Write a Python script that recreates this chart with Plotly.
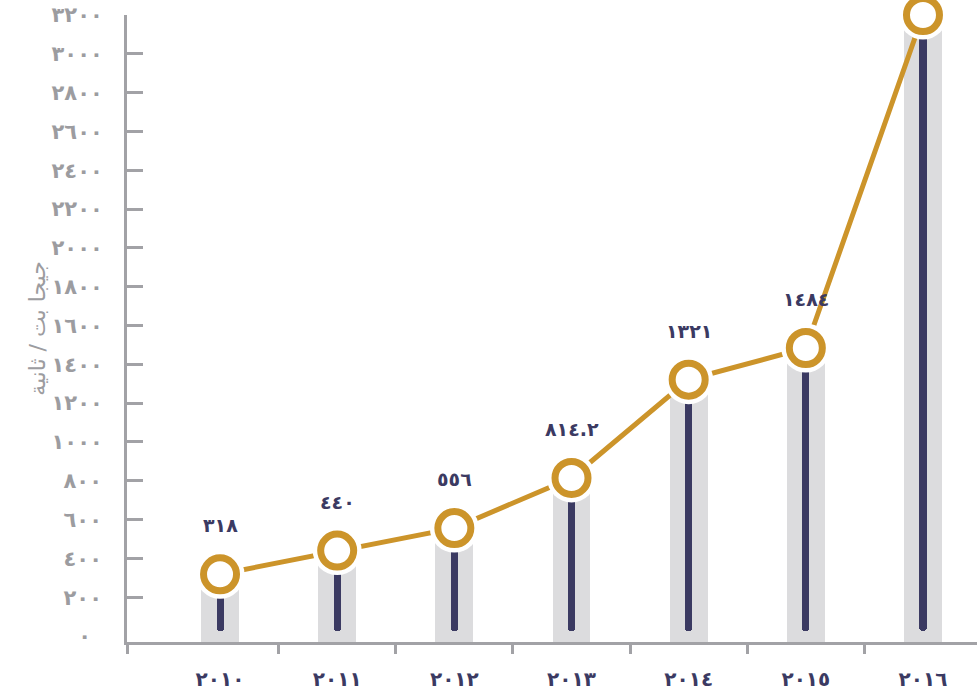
import plotly.graph_objects as go

# Internet bandwidth by year (Gbit/s)
years = [2010, 2011, 2012, 2013, 2014, 2015, 2016]
year_labels = ["٢٠١٠", "٢٠١١", "٢٠١٢", "٢٠١٣", "٢٠١٤", "٢٠١٥", "٢٠١٦"]
bandwidth = [318, 440, 556, 814.2, 1321, 1484, 3200]
bandwidth_labels = ["٣١٨", "٤٤٠", "٥٥٦", "٨١٤.٢", "١٣٢١", "١٤٨٤", ""]

# y tick labels, grouped by digit count so each group can be centred
y_ticks_4 = [1000, 1200, 1400, 1600, 1800, 2000, 2200, 2400, 2600, 2800, 3000, 3200]
y_labels_4 = ["١٠٠٠", "١٢٠٠", "١٤٠٠", "١٦٠٠", "١٨٠٠", "٢٠٠٠",
              "٢٢٠٠", "٢٤٠٠", "٢٦٠٠", "٢٨٠٠", "٣٠٠٠", "٣٢٠٠"]
y_ticks_3 = [200, 400, 600, 800]
y_labels_3 = ["٢٠٠", "٤٠٠", "٦٠٠", "٨٠٠"]
y_ticks_1 = [0]
y_labels_1 = ["٠"]
y_title = "جيجا بت / ثانية"

GOLD = "#cc942a"
NAVY = "#3b3a62"
BAR_GRAY = "#dcdcde"
AXIS_GRAY = "#a2a2a6"
TEXT_GRAY = "#9c9ca0"
FONT = "DejaVu Sans"

Y_MIN, Y_MAX = -31, 3200
X_MIN, X_MAX = 2009.206, 2016.461
NAVY_BOTTOM = 26

fig = go.Figure()

# wide light bars rising from the axis line
fig.add_trace(go.Bar(
    x=years, y=[v - Y_MIN for v in bandwidth], base=Y_MIN,
    width=0.324, marker=dict(color=BAR_GRAY, line=dict(width=0)),
    hoverinfo="skip", showlegend=False,
))

# thin navy stems with a rounded lower end
fig.add_trace(go.Bar(
    x=years, y=[NAVY_BOTTOM - v for v in bandwidth], base=bandwidth,
    width=0.06, marker=dict(color=NAVY, line=dict(width=0), cornerradius=4),
    hoverinfo="skip", showlegend=False,
))

# trend line
fig.add_trace(go.Scatter(
    x=years, y=bandwidth, mode="lines",
    line=dict(color=GOLD, width=5),
    hoverinfo="skip", showlegend=False, cliponaxis=False,
))

# white halo behind each marker
fig.add_trace(go.Scatter(
    x=years, y=bandwidth, mode="markers",
    marker=dict(size=49, color="white", line=dict(width=0)),
    hoverinfo="skip", showlegend=False, cliponaxis=False,
))

# gold ring markers
fig.add_trace(go.Scatter(
    x=years, y=bandwidth, mode="markers",
    marker=dict(size=33, color="white", line=dict(color=GOLD, width=7)),
    showlegend=False, cliponaxis=False,
))

# invisible anchors for the extra label-only y axes
for axis_name in ("y2", "y3"):
    fig.add_trace(go.Scatter(
        x=[X_MIN], y=[0], yaxis=axis_name, mode="markers",
        marker=dict(size=0, opacity=0), hoverinfo="skip", showlegend=False,
    ))

fig.update_layout(barmode="overlay")

for x, v, label in zip(years, bandwidth, bandwidth_labels):
    if label:
        fig.add_annotation(
            x=x, y=v, text=label, showarrow=False, yshift=49,
            font=dict(family=FONT, size=19, color=NAVY, weight="bold"),
        )

# the year labels are cut along their lower edge
fig.add_shape(
    type="rect", xref="paper", yref="paper",
    x0=-0.2, x1=1.05, y0=-0.2, y1=-0.0734,
    fillcolor="white", line=dict(width=0), layer="above",
)

tick_font = dict(family=FONT, size=21, color=TEXT_GRAY, weight="bold")

all_ticks = y_ticks_3 + y_ticks_4
main_text = [""] * len(y_ticks_3) + y_labels_4

label_axis = dict(
    overlaying="y", side="left", range=[Y_MIN, Y_MAX], tickmode="array",
    ticks="", showgrid=False, zeroline=False, showline=False, tickfont=tick_font,
)

fig.update_layout(
    width=977, height=699,
    margin=dict(l=127, r=0, t=15, b=57),
    paper_bgcolor="white", plot_bgcolor="white",
    bargap=0,
    xaxis=dict(
        range=[X_MIN, X_MAX],
        tickmode="array", tickvals=years, ticktext=year_labels,
        ticks="", showgrid=False, zeroline=False,
        showline=True, linecolor=AXIS_GRAY, linewidth=3,
        tickfont=dict(family=FONT, size=20, color=NAVY, weight="bold"),
        ticklabelstandoff=17,
        minor=dict(
            tickmode="array",
            tickvals=[X_MIN, 2010.5, 2011.5, 2012.5, 2013.5, 2014.5, 2015.5],
            ticks="outside", ticklen=9, tickwidth=2.5, tickcolor=AXIS_GRAY,
            showgrid=False,
        ),
    ),
    yaxis=dict(
        range=[Y_MIN, Y_MAX],
        tickmode="array", tickvals=all_ticks, ticktext=main_text,
        ticks="inside", ticklen=16, tickwidth=2.5, tickcolor=AXIS_GRAY,
        showgrid=False, zeroline=False,
        showline=True, linecolor=AXIS_GRAY, linewidth=3,
        tickfont=tick_font,
        ticklabelstandoff=17,
        title=dict(text=y_title, standoff=0,
                   font=dict(family=FONT, size=22, color=TEXT_GRAY)),
    ),
    yaxis2=dict(label_axis, tickvals=y_ticks_3, ticktext=y_labels_3,
                ticklabelstandoff=24),
    yaxis3=dict(label_axis, tickvals=y_ticks_1, ticktext=y_labels_1,
                ticklabelstandoff=35),
)

fig.write_html("out.html")
